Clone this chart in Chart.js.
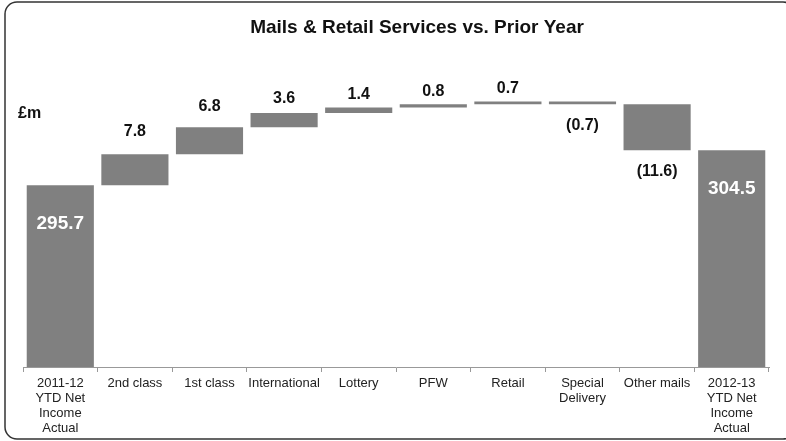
<!DOCTYPE html>
<html>
<head>
<meta charset="utf-8">
<script src="https://cdn.jsdelivr.net/npm/chart.js@4"></script>
<style>
  html, body { margin: 0; padding: 0; background: #fff; }
  #wrap { width: 786px; height: 441px; }
</style>
</head>
<body>
<div id="wrap"><canvas id="bridge" width="786" height="441"></canvas></div>
<script>
// Mails & Retail net income bridge, £m
const categories = [
  ['2011-12', 'YTD Net', 'Income', 'Actual'],
  '2nd class', '1st class', 'International', 'Lottery', 'PFW', 'Retail',
  ['Special', 'Delivery'], 'Other mails',
  ['2012-13', 'YTD Net', 'Income', 'Actual']
];
const openingValue = 295.7;
const movements = [7.8, 6.8, 3.6, 1.4, 0.8, 0.7, -0.7, -11.6];
const closingValue = 304.5;
const axisMin = 250;
const axisMax = 330;

const FONT = '"Liberation Sans", Arial, sans-serif';

// floating bars: totals sit on the axis floor, movements step from the running total
const bars = [[axisMin, openingValue]];
const shown = [openingValue];
let running = openingValue;
movements.forEach(m => {
  bars.push([running, running + m]);
  shown.push(m);
  running += m;
});
bars.push([axisMin, closingValue]);
shown.push(closingValue);
const isTotal = i => i === 0 || i === bars.length - 1;

const fmt = v => v < 0 ? '(' + Math.abs(v).toFixed(1) + ')' : v.toFixed(1);

const decorPlugin = {
  id: 'decor',
  afterDatasetsDraw(chart) {
    const ctx = chart.ctx;
    const meta = chart.getDatasetMeta(0);
    ctx.save();
    ctx.textAlign = 'center';
    ctx.textBaseline = 'middle';
    meta.data.forEach((el, i) => {
      const top = Math.min(el.y, el.base);
      const bottom = Math.max(el.y, el.base);
      const h = bottom - top;
      const v = shown[i];
      if (isTotal(i)) {
        ctx.fillStyle = '#fff';
        ctx.font = 'bold 19px ' + FONT;
        ctx.fillText(fmt(v), el.x, top + 38);
      } else if (v >= 0) {
        ctx.fillStyle = '#111';
        ctx.font = 'bold 16px ' + FONT;
        ctx.fillText(fmt(v), el.x, top - Math.max(13, h / 2 + 7));
      } else {
        ctx.fillStyle = '#111';
        ctx.font = 'bold 16px ' + FONT;
        ctx.fillText(fmt(v), el.x, bottom + 21);
      }
    });

    // title and unit
    ctx.fillStyle = '#111';
    ctx.font = 'bold 19px ' + FONT;
    ctx.fillText('Mails & Retail Services vs. Prior Year', 417, 28);
    ctx.textAlign = 'left';
    ctx.font = 'bold 16px ' + FONT;
    ctx.fillText('£m', 18, 114);

    // rounded frame
    ctx.strokeStyle = '#333';
    ctx.lineWidth = 1.5;
    ctx.beginPath();
    ctx.roundRect(5, 2, 790, 437, 12);
    ctx.stroke();
    ctx.restore();
  }
};

new Chart(document.getElementById('bridge'), {
  type: 'bar',
  data: {
    labels: categories,
    datasets: [{
      data: bars,
      backgroundColor: '#808080',
      borderWidth: 0,
      barPercentage: 0.9,
      categoryPercentage: 1.0
    }]
  },
  options: {
    responsive: false,
    animation: false,
    layout: { padding: { left: 23, right: 17, top: 49, bottom: 0 } },
    plugins: { legend: { display: false }, tooltip: { enabled: false } },
    scales: {
      x: {
        afterFit(scale) { scale.height = 74; },
        grid: { drawOnChartArea: false, color: '#999', tickLength: 5, offset: true },
        border: { color: '#999', width: 1 },
        ticks: {
          color: '#222',
          padding: 4,
          maxRotation: 0,
          autoSkip: false,
          font: { family: FONT, size: 13, lineHeight: 1.15 }
        }
      },
      y: {
        display: false,
        min: axisMin,
        max: axisMax
      }
    }
  },
  plugins: [decorPlugin]
});
</script>
</body>
</html>
